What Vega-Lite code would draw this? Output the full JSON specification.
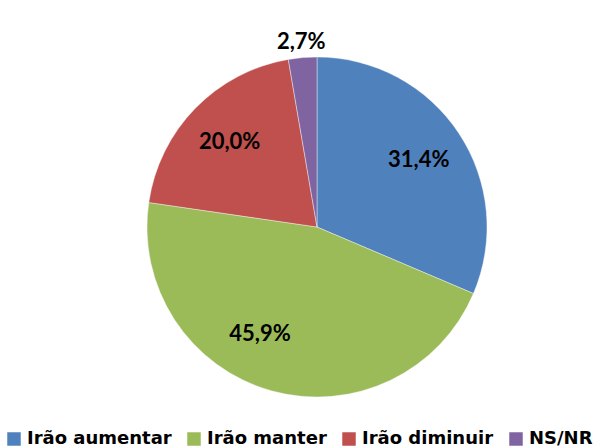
{
  "$schema": "https://vega.github.io/schema/vega-lite/v6.json",
  "width": 340,
  "height": 340,
  "autosize": {"type": "none"},
  "padding": {"left": 147, "top": 57, "right": 112, "bottom": 51},
  "config": {
    "view": {"stroke": null},
    "locale": {"number": {"decimal": ",", "thousands": ".", "grouping": [3], "currency": ["", " €"]}},
    "font": "Lato"
  },
  "data": {
    "values": [
      {"cat": "Irão aumentar", "value": 0.314, "ord": 1},
      {"cat": "Irão manter", "value": 0.459, "ord": 2},
      {"cat": "Irão diminuir", "value": 0.200, "ord": 3},
      {"cat": "NS/NR", "value": 0.027, "ord": 4}
    ]
  },
  "transform": [
    {"stack": "value", "groupby": [], "sort": [{"field": "ord", "order": "ascending"}], "as": ["v0", "v1"]},
    {"calculate": "(datum.v0 + datum.v1) / 2", "as": "vmid"}
  ],
  "layer": [
    {
      "mark": {"type": "arc", "outerRadius": 170, "stroke": "white", "strokeWidth": 0.4},
      "encoding": {
        "theta": {"field": "v0", "type": "quantitative", "scale": {"domain": [0, 1]}},
        "theta2": {"field": "v1"},
        "color": {
          "field": "cat",
          "type": "nominal",
          "sort": ["Irão aumentar", "Irão manter", "Irão diminuir", "NS/NR"],
          "scale": {"domain": ["Irão aumentar", "Irão manter", "Irão diminuir", "NS/NR"], "range": ["#4F81BD", "#9BBB59", "#C0504D", "#8064A2"]},
          "legend": {
            "title": null,
            "orient": "none",
            "direction": "horizontal",
            "legendX": -142,
            "legendY": 373,
            "padding": 0,
            "symbolType": "square",
            "symbolSize": 182,
            "symbolStrokeWidth": 0,
            "labelFont": "DejaVu Sans",
            "labelFontWeight": "bold",
            "labelFontSize": 18,
            "labelColor": "#000000",
            "labelOffset": 4,
            "columnPadding": 13,
            "labelLimit": 300
          }
        }
      }
    },
    {
      "transform": [{"filter": "datum.ord == 1 || datum.ord == 3"}],
      "mark": {"type": "text", "radius": 122, "font": "Lato", "fontWeight": "bold", "fontSize": 22, "color": "#000000"},
      "encoding": {
        "theta": {"field": "vmid", "type": "quantitative", "scale": {"domain": [0, 1]}},
        "text": {"field": "value", "type": "quantitative", "format": ".1%"}
      }
    },
    {
      "transform": [{"filter": "datum.ord == 2"}],
      "mark": {"type": "text", "radius": 122, "dx": -24, "dy": -10, "font": "Lato", "fontWeight": "bold", "fontSize": 22, "color": "#000000"},
      "encoding": {
        "theta": {"field": "vmid", "type": "quantitative", "scale": {"domain": [0, 1]}},
        "text": {"field": "value", "type": "quantitative", "format": ".1%"}
      }
    },
    {
      "transform": [{"filter": "datum.ord == 4"}],
      "mark": {"type": "text", "radius": 186, "font": "Lato", "fontWeight": "bold", "fontSize": 22, "color": "#000000"},
      "encoding": {
        "theta": {"field": "vmid", "type": "quantitative", "scale": {"domain": [0, 1]}},
        "text": {"field": "value", "type": "quantitative", "format": ".1%"}
      }
    }
  ]
}
